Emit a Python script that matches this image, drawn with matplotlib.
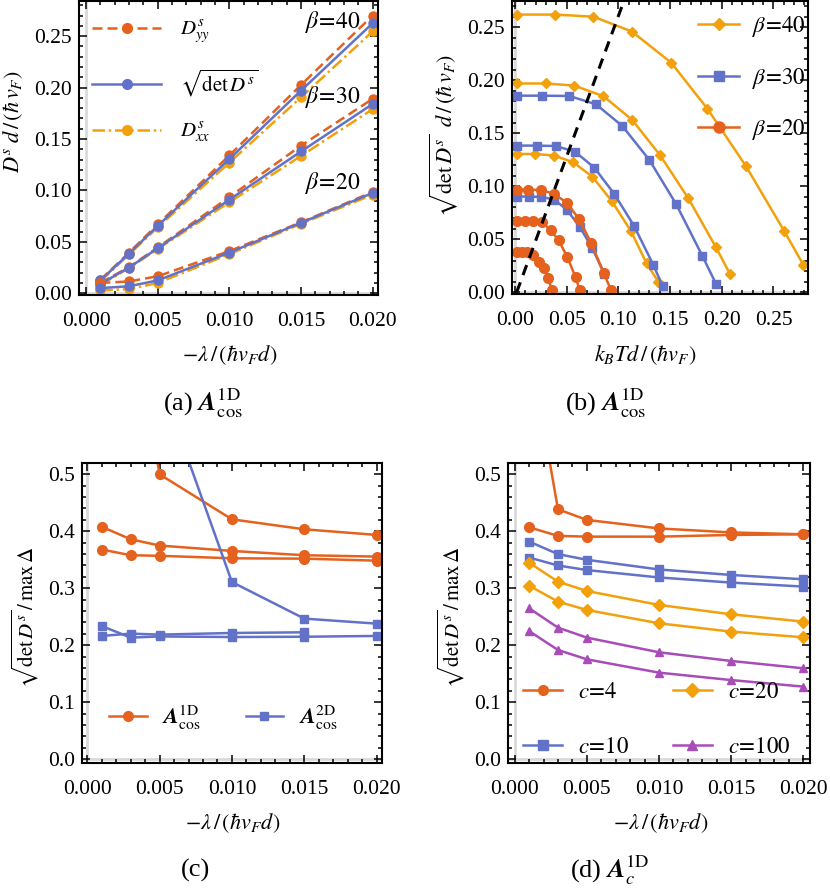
import numpy as np
import matplotlib
matplotlib.use("Agg")
import matplotlib.pyplot as plt
from matplotlib.ticker import MultipleLocator, FormatStrFormatter
from matplotlib.lines import Line2D

plt.rcParams['font.family'] = ['Liberation Serif', 'DejaVu Serif']
plt.rcParams['mathtext.fontset'] = 'stix'
plt.rcParams['font.size'] = 14

RED = '#e5611e'
BLUE = '#6272c8'
ORANGE = '#f2a10c'
PURPLE = '#a84cb8'

# ---- panel (a): D^s vs -lambda, three beta values
lam = [0.001, 0.003, 0.005, 0.010, 0.015, 0.020]
a_beta = ['40', '30', '20']
a_dyy = {'40': [0.0130, 0.0395, 0.0670, 0.1340, 0.2025, 0.2700],
         '30': [0.0100, 0.0255, 0.0445, 0.0935, 0.1435, 0.1890],
         '20': [0.0100, 0.0115, 0.0165, 0.0410, 0.0690, 0.0985]}
a_det = {'40': [0.0125, 0.0385, 0.0655, 0.1305, 0.1970, 0.2625],
         '30': [0.0090, 0.0250, 0.0437, 0.0910, 0.1378, 0.1840],
         '20': [0.0050, 0.0068, 0.0125, 0.0395, 0.0685, 0.0975]}
a_dxx = {'40': [0.0115, 0.0378, 0.0640, 0.1270, 0.1905, 0.2545],
         '30': [0.0080, 0.0245, 0.0430, 0.0885, 0.1335, 0.1790],
         '20': [0.0028, 0.0040, 0.0100, 0.0380, 0.0675, 0.0958]}
a_label_y = {'40': 0.2637, '30': 0.191, '20': 0.107}

# ---- panel (b): sqrt det D^s vs temperature
b_T = {
    '40': [[0.0016, 0.0387, 0.0758, 0.1130, 0.1510, 0.1860, 0.2234, 0.2602, 0.2790],
           [0.0016, 0.0297, 0.0574, 0.0855, 0.1130, 0.1402, 0.1676, 0.1944, 0.2079],
           [0.0016, 0.0193, 0.0380, 0.0564, 0.0748, 0.0935, 0.1120, 0.1273, 0.1386]],
    '30': [[0.0016, 0.0258, 0.0525, 0.0783, 0.1038, 0.1300, 0.1558, 0.1812, 0.1944],
           [0.0016, 0.0209, 0.0393, 0.0580, 0.0767, 0.0960, 0.1150, 0.1338, 0.1428],
           [0.0016, 0.0133, 0.0256, 0.0379, 0.0500, 0.0625, 0.0748, 0.0864]],
    '20': [[0.0016, 0.0129, 0.0251, 0.0375, 0.0500, 0.0620, 0.0738, 0.0860, 0.0928],
           [0.0016, 0.0097, 0.0177, 0.0258, 0.0344, 0.0422, 0.0506, 0.0587, 0.0624],
           [0.0016, 0.0064, 0.0119, 0.0177, 0.0232, 0.0280, 0.0322, 0.0355]],
}
b_D = {
    '40': [[0.2620, 0.2620, 0.2600, 0.2460, 0.2167, 0.1733, 0.1190, 0.0581, 0.0258],
           [0.1970, 0.1970, 0.1950, 0.1850, 0.1630, 0.1295, 0.0887, 0.0424, 0.0173],
           [0.1305, 0.1305, 0.1290, 0.1226, 0.1091, 0.0862, 0.0580, 0.0273, 0.0100]],
    '30': [[0.1855, 0.1855, 0.1852, 0.1774, 0.1569, 0.1248, 0.0833, 0.0344, 0.0080],
           [0.1384, 0.1384, 0.1380, 0.1327, 0.1176, 0.0928, 0.0629, 0.0258, 0.0058],
           [0.0903, 0.0903, 0.0900, 0.0875, 0.0780, 0.0620, 0.0415, 0.0173]],
    '20': [[0.0968, 0.0968, 0.0965, 0.0930, 0.0846, 0.0690, 0.0462, 0.0179, 0.0022],
           [0.0672, 0.0672, 0.0672, 0.0665, 0.0588, 0.0490, 0.0333, 0.0140, 0.0025],
           [0.0382, 0.0382, 0.0380, 0.0352, 0.0290, 0.0226, 0.0138, 0.0022]],
}
b_crit_T = [0.0016, 0.1057]
b_crit_D = [0.0, 0.2758]

# ---- panel (c): 1D vs 2D
c_1d = [[np.nan, 0.80, 0.500, 0.421, 0.4035, 0.3936],
        [0.408, 0.386, 0.375, 0.3655, 0.358, 0.3556],
        [0.368, 0.358, 0.357, 0.3526, 0.3520, 0.3485]]
c_2d = [[np.nan, np.nan, 0.666, 0.311, 0.2468, 0.2380],
        [0.2339, 0.2135, 0.2155, 0.2145, 0.2150, 0.2164],
        [0.2164, 0.2205, 0.2187, 0.2216, 0.2228, np.nan]]

# ---- panel (d): different c values
d_c = ['4', '10', '20', '100']
d_vals = {'4': [[0.73, 0.4386, 0.420, 0.405, 0.398, 0.3947],
                [0.407, 0.392, 0.3906, 0.3906, 0.3936, 0.3947]],
          '10': [[0.382, 0.360, 0.350, 0.333, 0.3234, 0.3158],
                 [0.354, 0.340, 0.332, 0.319, 0.310, 0.303]],
          '20': [[0.345, 0.3117, 0.2953, 0.2708, 0.2544, 0.2415],
                 [0.3047, 0.2766, 0.262, 0.2386, 0.224, 0.214]],
          '100': [[0.265, 0.231, 0.2135, 0.1877, 0.1725, 0.1596],
                  [0.225, 0.1918, 0.1754, 0.152, 0.139, 0.1275]]}
d_style = {'4': (RED, 'o'), '10': (BLUE, 's'), '20': (ORANGE, 'D'), '100': (PURPLE, '^')}

W, H = 830, 890
fig = plt.figure(figsize=(W / 100, H / 100), dpi=100)


def make_axes(x0, x1, y0, y1):
    return fig.add_axes([x0 / W, 1 - y1 / H, (x1 - x0) / W, (y1 - y0) / H])


def ftext(x, y, s, **kw):
    fig.text(x / W, 1 - y / H, s, ha='center', va='center', **kw)


def frame(ax, xmaj, xmin, ymaj, ymin, xfmt, yfmt):
    for sp in ax.spines.values():
        sp.set_linewidth(1.5)
    ax.xaxis.set_major_locator(MultipleLocator(xmaj))
    ax.xaxis.set_minor_locator(MultipleLocator(xmin))
    ax.yaxis.set_major_locator(MultipleLocator(ymaj))
    ax.yaxis.set_minor_locator(MultipleLocator(ymin))
    ax.xaxis.set_major_formatter(FormatStrFormatter(xfmt))
    ax.yaxis.set_major_formatter(FormatStrFormatter(yfmt))
    ax.tick_params(which='both', direction='in', top=True, right=True, width=1.1)
    ax.tick_params(which='major', length=6, labelsize=15.5)
    ax.tick_params(which='minor', length=3)
    ax.tick_params(axis='x', pad=12)
    ax.tick_params(axis='y', pad=5)
    ax.axvline(0, color='#dadada', lw=2.0, zorder=0)
    ax.axhline(0, color='#dadada', lw=2.0, zorder=0)


lw = 1.8
LBL = 16
CAP = 19

# ---------------- (a)
ax = make_axes(79, 378, 1, 295)
for b in a_beta:
    ax.plot(lam, a_dxx[b], color=ORANGE, ls=(0, (5, 1.5, 1, 1.5)), lw=lw, marker='o', ms=6.5)
    ax.plot(lam, a_dyy[b], color=RED, ls=(0, (4, 2)), lw=lw, marker='o', ms=6.5)
    ax.plot(lam, a_det[b], color=BLUE, lw=lw, marker='o', ms=6.5)
    ax.text(0.0172, a_label_y[b], r'$\beta\!=\!%s$' % b, ha='center', va='center', fontsize=17)
ax.set_xlim(-0.00049, 0.02037)
ax.set_ylim(-0.0017, 0.2841)
frame(ax, 0.005, 0.001, 0.05, 0.01, '%.3f', '%.2f')
handles = [Line2D([], [], color=RED, ls=(0, (4, 2)), lw=lw, marker='o', ms=7),
           Line2D([], [], color=BLUE, lw=lw, marker='o', ms=7),
           Line2D([], [], color=ORANGE, ls=(0, (5, 1.5, 1, 1.5)), lw=lw, marker='o', ms=7)]
ax.legend(handles, [r'$D^s_{yy}$', r'$\sqrt{\mathrm{det}\,D^s}$', r'$D^s_{xx}$'],
          loc='upper left', bbox_to_anchor=(0.045, 0.94), frameon=False,
          handlelength=3.3, handletextpad=0.9, labelspacing=1.05, borderpad=0,
          borderaxespad=0, numpoints=1, fontsize=15)
ftext(13, 122, r'$D^s\;d\,/\,(\hbar\,v_F)$', rotation=90, fontsize=LBL)
ftext(230, 355, r'$-\lambda\,/\,(\hbar v_F d)$', fontsize=LBL)
ftext(203, 403, r'(a) $\mathbfit{A}^{\mathrm{1D}}_{\mathrm{cos}}$', fontsize=CAP)

# ---------------- (b)
ax = make_axes(512, 808, 1, 294)
b_style = {'40': (ORANGE, 'D', 5.5), '30': (BLUE, 's', 6), '20': (RED, 'o', 7)}
for b in ['40', '30', '20']:
    col, mk, ms = b_style[b]
    for T, D in zip(b_T[b], b_D[b]):
        ax.plot(T, D, color=col, lw=lw, marker=mk, ms=ms)
ax.plot(b_crit_T, b_crit_D, color='black', ls=(0, (3.5, 2.5)), lw=2.2)
ax.set_xlim(-0.0029, 0.2834)
ax.set_ylim(-0.0016, 0.2748)
frame(ax, 0.05, 0.01, 0.05, 0.01, '%.2f', '%.2f')
handles = [Line2D([], [], color=b_style[b][0], lw=lw, marker=b_style[b][1], ms=b_style[b][2] + 1)
           for b in ['40', '30', '20']]
ax.legend(handles, [r'$\beta\!=\!40$', r'$\beta\!=\!30$', r'$\beta\!=\!20$'],
          loc='upper left', bbox_to_anchor=(0.63, 0.955), frameon=False,
          handlelength=1.75, handletextpad=0.6, labelspacing=1.15, borderpad=0,
          borderaxespad=0, numpoints=1, fontsize=16.5)
ftext(444, 135, r'$\sqrt{\mathrm{det}\,D^s}\;\;d\,/\,(\hbar\,v_F)$', rotation=90, fontsize=LBL)
ftext(645, 355, r'$k_B T d\,/\,(\hbar v_F)$', fontsize=LBL)
ftext(606, 403, r'(b) $\mathbfit{A}^{\mathrm{1D}}_{\mathrm{cos}}$', fontsize=CAP)

# ---------------- (c)
ax = make_axes(82, 382, 463, 763)
for v in c_1d:
    ax.plot(lam, v, color=RED, lw=lw, marker='o', ms=7)
for v in c_2d:
    ax.plot(lam, v, color=BLUE, lw=lw, marker='s', ms=6)
ax.set_xlim(-0.00036, 0.02037)
ax.set_ylim(-0.0065, 0.5198)
frame(ax, 0.005, 0.001, 0.1, 0.02, '%.3f', '%.1f')
handles = [Line2D([], [], color=RED, lw=lw, marker='o', ms=7),
           Line2D([], [], color=BLUE, lw=lw, marker='s', ms=6)]
ax.legend(handles, [r'$\mathbfit{A}^{\mathrm{1D}}_{\mathrm{cos}}$', r'$\mathbfit{A}^{\mathrm{2D}}_{\mathrm{cos}}$'],
          loc='center left', bbox_to_anchor=(0.09, 0.15), frameon=False, ncol=2,
          handlelength=1.7, handletextpad=0.7, columnspacing=2.0, borderpad=0,
          borderaxespad=0, numpoints=1, fontsize=16)
ftext(25, 617, r'$\sqrt{\mathrm{det}\,D^s}\,/\,\mathrm{max}\,\Delta$', rotation=90, fontsize=15)
ftext(233, 823, r'$-\lambda\,/\,(\hbar v_F d)$', fontsize=LBL)
ftext(195, 870, '(c)', fontsize=CAP)

# ---------------- (d)
ax = make_axes(508, 810, 463, 763)
for c in d_c:
    col, mk = d_style[c]
    ms = 7 if mk == 'o' else 6
    for v in d_vals[c]:
        ax.plot(lam, v, color=col, lw=lw, marker=mk, ms=ms)
ax.set_xlim(-0.00046, 0.02046)
ax.set_ylim(-0.0065, 0.5198)
frame(ax, 0.005, 0.001, 0.1, 0.02, '%.3f', '%.1f')
handles = [Line2D([], [], color=d_style[c][0], lw=lw, marker=d_style[c][1], ms=7) for c in d_c]
ax.legend(handles, [r'$c\!=\!%s$' % c for c in d_c],
          loc='center left', bbox_to_anchor=(0.05, 0.143), frameon=False, ncol=2,
          handlelength=1.7, handletextpad=0.7, columnspacing=1.9, labelspacing=1.45,
          borderpad=0, borderaxespad=0, numpoints=1, fontsize=16.5)
ftext(451, 617, r'$\sqrt{\mathrm{det}\,D^s}\,/\,\mathrm{max}\,\Delta$', rotation=90, fontsize=15)
ftext(661, 823, r'$-\lambda\,/\,(\hbar v_F d)$', fontsize=LBL)
ftext(610, 870, r'(d) $\mathbfit{A}^{\mathrm{1D}}_{c}$', fontsize=CAP)

fig.savefig('out.png', dpi=100)
